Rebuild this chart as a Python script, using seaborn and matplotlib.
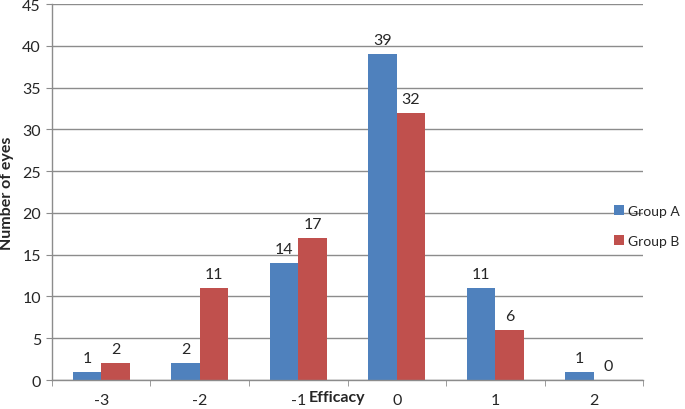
import pandas as pd
import numpy as np
import seaborn as sns
import matplotlib.pyplot as plt
from matplotlib.ticker import MultipleLocator, FixedLocator

# chart data
efficacy = ['-3', '-2', '-1', '0', '1', '2']
group_a = [1, 2, 14, 39, 11, 1]
group_b = [2, 11, 17, 32, 6, 0]

df = pd.DataFrame({
    'Efficacy': efficacy * 2,
    'Eyes': group_a + group_b,
    'Group': ['Group A'] * len(efficacy) + ['Group B'] * len(efficacy),
})

sns.set_style('white')
plt.rcParams['font.family'] = ['Lato', 'DejaVu Sans']
fs = 11.5

fig = plt.figure(figsize=(6.85, 4.1), dpi=100)
ax = fig.add_axes([0.0759, 0.0707, 0.8628, 0.9171])

sns.barplot(data=df, x='Efficacy', y='Eyes', hue='Group', order=efficacy,
            palette=['#4F81BD', '#C0504D'], width=0.58, saturation=1,
            linewidth=0, edgecolor='none', ax=ax, legend=True)

# value labels
for cont in ax.containers:
    ax.bar_label(cont, padding=5, fontsize=fs)

ax.set_ylim(0, 45)
ax.set_xlim(-0.5, len(efficacy) - 0.5)
ax.yaxis.set_major_locator(MultipleLocator(5))
ax.grid(axis='y', color='#8c8c8c', lw=1)
ax.set_axisbelow(True)
for s in ['top', 'right']:
    ax.spines[s].set_visible(False)
for s in ['left', 'bottom']:
    ax.spines[s].set_color('#8c8c8c')
    ax.spines[s].set_linewidth(1)

ax.tick_params(axis='y', left=True, length=4, color='#8c8c8c', labelsize=fs, pad=4)
ax.tick_params(axis='x', which='major', bottom=False, labelsize=fs, pad=6)
ax.xaxis.set_minor_locator(FixedLocator(np.arange(-0.5, len(efficacy), 1)))
ax.tick_params(axis='x', which='minor', bottom=True, length=4, color='#8c8c8c')

ax.set_ylabel('Number of eyes', fontsize=fs, fontweight='bold', labelpad=6)
ax.set_xlabel('Efficacy', fontsize=fs, fontweight='bold')
ax.xaxis.set_label_coords(0.482, -0.027)
ax.xaxis.label.set_va('top')

h, l = ax.get_legend_handles_labels()
ax.legend_.remove()
fig.legend(h, l, loc='center left', bbox_to_anchor=(0.888, 0.447), frameon=False,
           fontsize=10, handlelength=0.75, handleheight=0.75, handletextpad=0.25,
           labelspacing=1.3, borderaxespad=0)

fig.savefig('out.png', dpi=100)
